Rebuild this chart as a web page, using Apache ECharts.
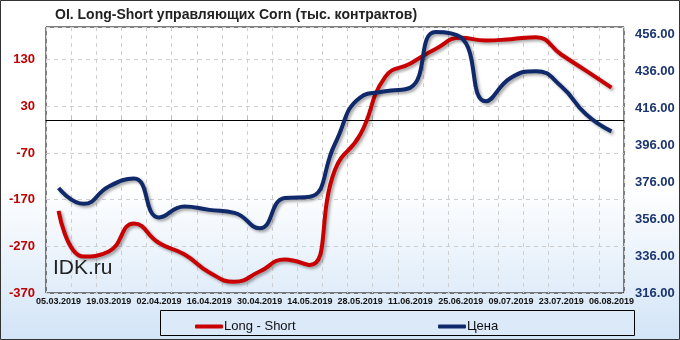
<!DOCTYPE html>
<html><head><meta charset="utf-8">
<script src="https://cdn.jsdelivr.net/npm/echarts@6/dist/echarts.min.js"></script>
<style>html,body{margin:0;padding:0;background:#fff}#c{width:680px;height:340px}</style>
</head><body><div id="c"></div>
<script>
var categories = ['05.03.2019','12.03.2019','19.03.2019','26.03.2019','02.04.2019','09.04.2019','16.04.2019','23.04.2019','30.04.2019','07.05.2019','14.05.2019','21.05.2019','28.05.2019','04.06.2019','11.06.2019','18.06.2019','25.06.2019','02.07.2019','09.07.2019','16.07.2019','23.07.2019','30.07.2019','06.08.2019'];
var longShort = [-194,-292,-281,-221,-263,-287,-326,-346,-324,-298,-310,-106,-31,93,122,153,177,171,174,178,141,106,70];
var price = [372.8,364.3,373.7,378,356.9,362.8,361,359.4,351.1,367.4,368.1,396.8,421.8,425.2,427.2,457.3,454.5,419.8,432.5,436.1,427.9,412.6,403.5];
var leftTicks = {min:-370, max:200, interval:100};
var rightTicks = {min:316, max:460, interval:20};
var titleText = 'OI. Long-Short управляющих Corn (тыс. контрактов)';
var seriesNames = ['Long - Short','Цена'];

var chart = echarts.init(document.getElementById('c'));
var shadow = {shadowColor:'rgba(0,0,0,0.35)', shadowBlur:3, shadowOffsetX:2, shadowOffsetY:2};
chart.setOption({
  animation:false,
  backgroundColor:{type:'linear',x:0,y:0,x2:0,y2:1,colorStops:[{offset:0,color:'#ffffff'},{offset:0.55,color:'#ffffff'},{offset:1,color:'#d2e4f7'}]},
  title:{text:titleText,left:50,top:3,textStyle:{fontFamily:'Liberation Sans',fontWeight:'bold',fontSize:14,color:'#222'}},
  grid:{left:46,right:56,top:27,bottom:47,show:true,borderColor:'#000',borderWidth:1,backgroundColor:'transparent'},
  graphic:[
    {type:'rect',z:-1,shape:{x:0.5,y:0.5,width:679,height:339},style:{fill:'none',stroke:'#333',lineWidth:1}},
    {type:'rect',z:0,shape:{x:160.5,y:310.5,width:474,height:25},style:{fill:'#dbe9f9',stroke:'#000',lineWidth:1}},
    {type:'text',z:5,left:53,top:258,style:{text:'IDK.ru',font:'21px Liberation Sans',fill:'#222'}}
  ],
  legend:[
    {data:[seriesNames[0]],left:190,top:315,itemWidth:28,itemHeight:4,icon:'roundRect',itemGap:0,textStyle:{fontFamily:'Liberation Sans',fontSize:13,color:'#111',padding:[0,0,0,-4]}},
    {data:[seriesNames[1]],left:433,top:315,itemWidth:28,itemHeight:4,icon:'roundRect',itemGap:0,textStyle:{fontFamily:'Liberation Sans',fontSize:13,color:'#111',padding:[0,0,0,-4]}}
  ],
  xAxis:{type:'category',data:categories,boundaryGap:true,
    axisLine:{show:true,lineStyle:{color:'#000'}},
    axisTick:{show:true,inside:true,length:4,interval:0,lineStyle:{color:'#bbb'}},
    axisLabel:{interval:1,fontFamily:'Liberation Sans',fontWeight:'bold',fontSize:9,color:'#111',margin:4},
    splitLine:{show:true,interval:0,lineStyle:{color:'#cfcfcf',type:[4,4]}}},
  yAxis:[
    {type:'value',min:leftTicks.min,max:leftTicks.max,interval:leftTicks.interval,position:'left',
     axisLine:{show:false},axisTick:{show:false},
     axisLabel:{showMaxLabel:false,margin:11,fontFamily:'Liberation Sans',fontWeight:'bold',fontSize:13,color:'#c00000'},
     splitLine:{show:true,lineStyle:{color:'#cfcfcf',type:[4,4]}}},
    {type:'value',min:rightTicks.min,max:rightTicks.max,interval:rightTicks.interval,position:'right',
     axisLine:{show:false},axisTick:{show:false},
     axisLabel:{showMaxLabel:false,margin:11,fontFamily:'Liberation Sans',fontWeight:'bold',fontSize:13,color:'#1b3570',
       formatter:function(v){return v.toFixed(2);}},
     splitLine:{show:false}}
  ],
  series:[
    {name:seriesNames[0],type:'line',yAxisIndex:0,data:longShort,smooth:0.5,showSymbol:false,symbol:'none',
     itemStyle:{color:'#c80000'},lineStyle:Object.assign({width:4,color:'#c80000'},shadow),z:3,
     markLine:{silent:true,symbol:'none',label:{show:false},lineStyle:{color:'#000',width:1,type:'solid'},data:[{yAxis:0}],z:1}},
    {name:seriesNames[1],type:'line',yAxisIndex:1,data:price,smooth:0.5,showSymbol:false,symbol:'none',
     itemStyle:{color:'#10296b'},lineStyle:Object.assign({width:4,color:'#10296b'},shadow),z:4}
  ]
});
</script></body></html>
